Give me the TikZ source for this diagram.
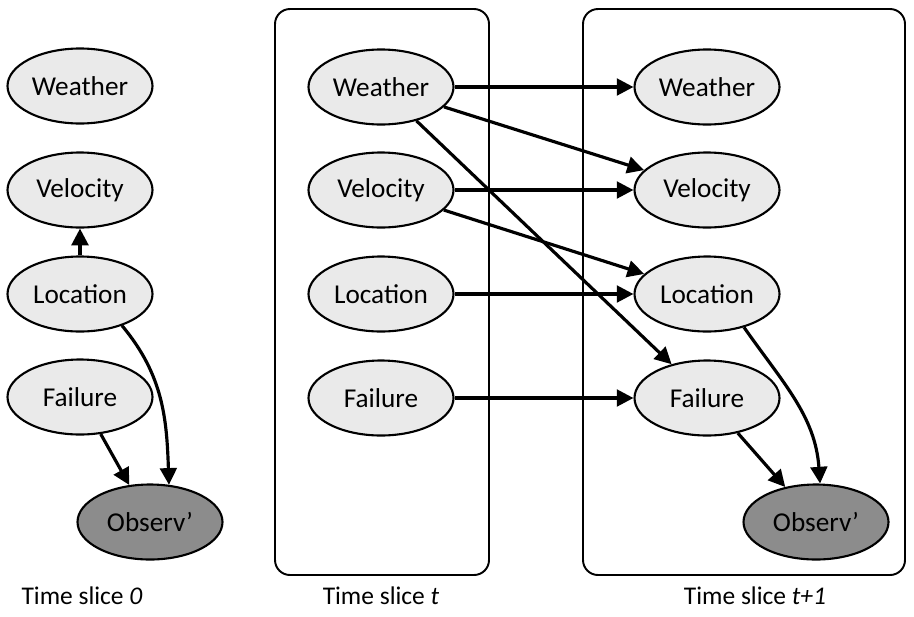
\documentclass[tikz,border=0pt]{standalone}
\usepackage{fontspec}
\setmainfont{Carlito}
\usetikzlibrary{shapes.geometric,arrows.meta}
\definecolor{nodegray}{RGB}{234,234,234}
\definecolor{obsgray}{RGB}{140,140,140}

\begin{document}
\begin{tikzpicture}[font=\fontsize{14.5}{17}\selectfont,
	var/.style={draw,ellipse,line width=1.2pt,fill=nodegray,minimum width=2.9cm,minimum height=1.5cm,inner sep=0,font=\fontsize{15.5}{18}\selectfont},
	obs/.style={var,fill=obsgray},
	slice/.style={draw,line width=1.1pt,rounded corners=0.3cm},
	arr/.style={line width=1.8pt,-{Triangle[length=9.5pt,width=9.5pt]}}]
\useasboundingbox (0,0) rectangle (18.28,-12.32);
% slice boxes
\draw[slice] (5.5,-0.18) rectangle (9.78,-11.5);
\draw[slice] (11.66,-0.18) rectangle (18.1,-11.5);
% time slice 0
\node[var] (W0) at (1.6,-1.72){Weather};
\node[var] (V0) at (1.6,-3.8){Velocity};
\node[var] (L0) at (1.6,-5.88){Location};
\node[var] (F0) at (1.6,-7.94){Failure};
\node[obs] (O0) at (3.0,-10.44){Observ’};
% time slice t
\node[var] (Wt) at (7.62,-1.74){Weather};
\node[var] (Vt) at (7.62,-3.8){Velocity};
\node[var] (Lt) at (7.62,-5.88){Location};
\node[var] (Ft) at (7.62,-7.96){Failure};
% time slice t+1
\node[var] (W1) at (14.14,-1.74){Weather};
\node[var] (V1) at (14.14,-3.8){Velocity};
\node[var] (L1) at (14.14,-5.88){Location};
\node[var] (F1) at (14.14,-7.96){Failure};
\node[obs] (O1) at (16.32,-10.44){Observ’};
% labels
\node (T0) at (1.64,-11.92){Time slice \textit{0}};
\node (Tt) at (7.62,-11.92){Time slice \textit{t}};
\node (T1) at (15.1,-11.92){Time slice \textit{t+1}};
% arcs inside slices
\draw[arr] (L0)--(V0);
\draw[arr] (F0)--(O0);
\draw[arr] (L0.-37) to[out=-50,in=92] (O0.63);
\draw[arr] (F1)--(O1);
\draw[arr] (L1.-42) to[out=-55,in=94] (O1.84);
% arcs between slices
\draw[arr] (Wt)--(W1);
\draw[arr] (Wt)--(V1);
\draw[arr] (Wt)--(F1);
\draw[arr] (Vt)--(V1);
\draw[arr] (Vt)--(L1);
\draw[arr] (Lt)--(L1);
\draw[arr] (Ft)--(F1);
\end{tikzpicture}
\end{document}
